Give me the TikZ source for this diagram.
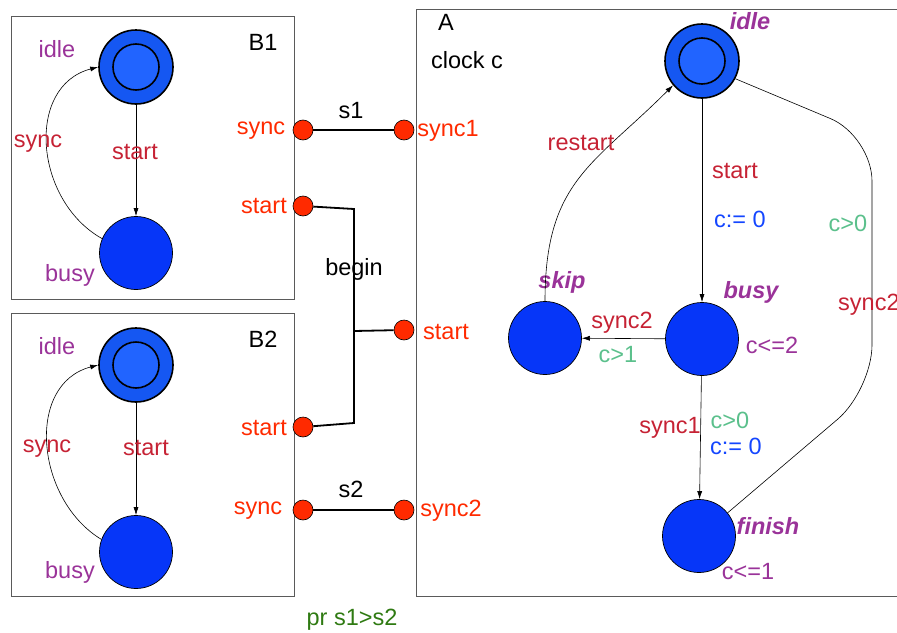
\documentclass[tikz,border=0pt]{standalone}
\usepackage{fontspec}
\setmainfont{Liberation Sans}
\usetikzlibrary{arrows.meta}
\definecolor{locblue}{HTML}{0636F8}
\definecolor{initblue}{HTML}{1557F2}
\definecolor{initin}{HTML}{2164FF}
\definecolor{namepurple}{HTML}{9A3399}
\definecolor{syncred}{HTML}{C62234}
\definecolor{guardgreen}{HTML}{5BC08C}
\definecolor{assignblue}{HTML}{1446FF}
\definecolor{portred}{HTML}{FF2A00}
\definecolor{prigreen}{HTML}{2F7A12}
\definecolor{boxgray}{HTML}{5A5A5A}
\begin{document}
\begin{tikzpicture}[x=1pt, y=-1pt, font=\fontsize{23.5}{26}\selectfont,
  every node/.style={inner sep=0pt},
  loc/.style={circle, draw, fill=locblue, minimum size=73pt, line width=0.7pt},
  initloc/.style={circle, draw, fill=initblue, minimum size=74pt, line width=1.6pt},
  initinner/.style={circle, draw, fill=initin, minimum size=46pt, line width=1.6pt},
  port/.style={circle, draw, fill=portred, minimum size=20pt, line width=0.6pt},
  edge/.style={-{Latex[length=8pt,width=5pt]}, line width=0.6pt},
  wire/.style={line width=1.8pt},
  frame/.style={draw=boxgray, line width=0.8pt},
  locname/.style={text=namepurple},
  italname/.style={text=namepurple, font=\fontsize{23.5}{26}\selectfont\bfseries\itshape},
  syncl/.style={text=syncred},
  guardl/.style={text=guardgreen},
  assignl/.style={text=assignblue},
  portl/.style={text=portred}]
\useasboundingbox (0,0) rectangle (897,632);

% process boxes
\draw[frame] (11,16) rectangle (294,299);
\draw[frame] (11,313) rectangle (294,596);
\draw[frame] (416,9) rectangle (930,596);
\node (b1name) at (263,42) {B1};
\node (b2name) at (263,339) {B2};
\node (aname) at (446,22) {A};
\node (aclock) at (467,60) {clock c};

% B1
\node[initloc] (b1idle) at (136,67) {};
\node[initinner] at (b1idle) {};
\node[loc] (b1busy) at (136,253) {};
\node[locname] (b1idlel) at (57,49) {idle};
\node[locname] (b1busyl) at (70,275) {busy};
\draw[edge] (b1idle) -- (b1busy);
\draw[edge] (b1busy.157) .. controls +(-68,-38) and +(-73,19) .. (b1idle.west);
\node[syncl] (b1startl) at (135,152) {start};
\node[syncl] (b1syncl) at (38,144) {sync};

% B2
\node[initloc] (b2idle) at (136,365) {};
\node[initinner] at (b2idle) {};
\node[loc] (b2busy) at (136,552) {};
\node[locname] (b2idlel) at (57,346) {idle};
\node[locname] (b2busyl) at (70,572) {busy};
\draw[edge] (b2idle) -- (b2busy);
\draw[edge] (b2busy.160) .. controls +(-66,-40) and +(-73,19) .. (b2idle.west);
\node[syncl] (b2startl) at (146,448) {start};
\node[syncl] (b2syncl) at (47,449) {sync};

% ports
\node[port] (b1sync) at (303,130) {};
\node[port] (b1start) at (303,206) {};
\node[port] (b2start) at (303,427) {};
\node[port] (b2sync) at (303,510) {};
\node[port] (async1) at (404,130) {};
\node[port] (astart) at (404,330) {};
\node[port] (async2) at (404,510) {};
\node[portl] at (261,131) {sync};
\node[portl] at (264,206) {start};
\node[portl] at (264,428) {start};
\node[portl] at (258,511) {sync};
\node[portl] at (448,131) {sync1};
\node[portl] at (446,332) {start};
\node[portl] at (451,511) {sync2};

% connections
\coordinate (begtop) at (354,209);
\coordinate (begmid) at (354,331);
\coordinate (begbot) at (354,423);
\node (s1l) at (351,111) {s1};
\node (s2l) at (351,489) {s2};
\node (beginl) at (354,269) {begin};
\draw[line width=2.6pt] (b1sync) -- (async1);
\draw[wire] (b2sync) -- (async2);
\draw[wire] (b1start) -- (begtop) -- (begbot) -- (b2start);
\draw[wire] (begmid) -- (astart);

% A
\node[initloc] (aidle) at (702,61) {};
\node[initinner] at (aidle) {};
\node[loc] (askip) at (545,338) {};
\node[loc] (abusy) at (702,339) {};
\node[loc] (afinish) at (699,536) {};
\node[italname] at (750,21) {idle};
\node[italname] at (562,282) {skip};
\node[italname] at (751,292) {busy};
\node[italname] at (768,526) {finish};
\node[locname] at (772,345) {c<=2};
\node[locname] at (748,572) {c<=1};
\draw[edge] (aidle) -- (abusy);
\draw[edge] (abusy) -- (askip);
\draw[edge] (abusy) -- (afinish);
\draw[edge] (askip.north) .. controls +(0,-120) and +(-80,80) .. (aidle.220);
\draw[line width=0.6pt, rounded corners=45pt] (afinish.39) -- (872,390) -- (872,136) -- (aidle.-28);
\node[syncl] at (735,171) {start};
\node[assignl] at (740,219) {c:= 0};
\node[syncl] at (581,143) {restart};
\node[syncl] at (622,323) {sync2};
\node[guardl] at (618,355) {c>1};
\node[syncl] at (670,428) {sync1};
\node[guardl] at (730,420) {c>0};
\node[assignl] at (736,446) {c:= 0};
\node[guardl] at (848,223) {c>0};
\node[syncl, anchor=west] at (838,305) {sync2};

% priority
\node[text=prigreen] (prio) at (352,620) {pr s1>s2};
\end{tikzpicture}
\end{document}
